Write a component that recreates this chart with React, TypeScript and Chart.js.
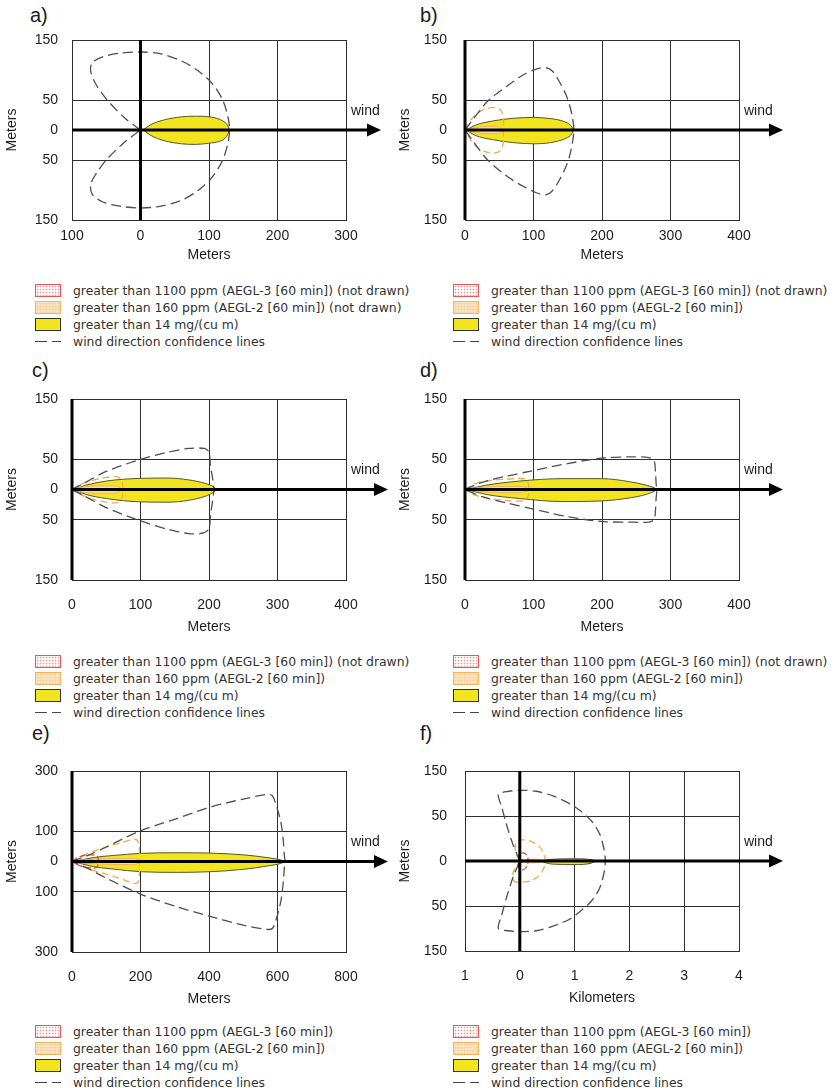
import React, { useEffect, useRef } from "react";
import { Chart, registerables } from "chart.js";

Chart.register(...registerables);

// ---------------- Panel a ----------------
const aXTicks = [-100, 0, 100, 200, 300];
const aXTickLabels = ["100", "0", "100", "200", "300"];
const aYTicks = [-150, -50, 0, 50, 150];
const aYTickLabels = ["150", "50", "0", "50", "150"];
const aYellowX = [4, 15, 35, 60, 80, 100, 115, 124, 128, 129.5];
const aYellowTop = [0, 9, 17, 22, 23, 22, 18, 12, 6, 0];
const aYellowBottom = [0, -9, -18, -23, -24, -22, -19, -13, -6, 0];
const aGrayDash = [
  [0, 0], [-25, 22], [-50, 52], [-66, 78], [-73, 100], [-70, 113], [-55, 122], [-30, 128], [0, 130],
  [30, 127], [60, 115], [85, 98], [105, 77], [120, 50], [128, 20], [130, 0], [128, -20], [120, -50],
  [105, -78], [85, -100], [60, -117], [30, -127], [0, -130], [-30, -127], [-55, -120], [-70, -108],
  [-73, -92], [-66, -75], [-50, -50], [-25, -22], [0, 0],
];

// ---------------- Panel b ----------------
const bXTicks = [0, 100, 200, 300, 400];
const bXTickLabels = ["0", "100", "200", "300", "400"];
const bYTicks = [-150, -50, 0, 50, 150];
const bYTickLabels = ["150", "50", "0", "50", "150"];
const bYellowX = [2, 15, 40, 70, 100, 125, 145, 154, 159];
const bYellowTop = [0, 8, 15, 19.5, 21, 19, 14, 8, 0];
const bYellowBottom = [0, -9, -16, -21, -23, -21, -15, -9, 0];
const bPeachX = [0, 15, 35, 50, 56];
const bPeachTop = [0, 4, 6, 5, 0];
const bPeachBottom = [0, -4, -6, -5, 0];
const bGrayDash = [
  [0, 0], [12, 18], [33, 48], [60, 72], [85, 92], [105, 102], [118, 104], [128, 98], [137, 82],
  [147, 60], [153, 40], [157, 20], [159, 0], [157, -20], [153, -42], [147, -62], [137, -85],
  [127, -102], [118, -108], [105, -105], [85, -94], [60, -76], [33, -50], [12, -19], [0, 0],
];
const bOrangeDash = [
  [0, 0], [8, 16], [18, 28], [32, 36], [45, 37], [53, 32], [56, 20], [56, 0], [56, -20], [53, -33],
  [45, -38], [32, -37], [18, -29], [8, -16], [0, 0],
];

// ---------------- Panel c ----------------
const cXTicks = [0, 100, 200, 300, 400];
const cXTickLabels = ["0", "100", "200", "300", "400"];
const cYTicks = [-150, -50, 0, 50, 150];
const cYTickLabels = ["150", "50", "0", "50", "150"];
const cYellowX = [2, 20, 50, 100, 140, 170, 195, 206, 211];
const cYellowTop = [0, 7, 14, 18.5, 19, 16, 10, 5, 0];
const cYellowBottom = [0, -8, -15, -20.5, -21, -18, -11, -5, 0];
const cPeachX = [0, 15, 35, 55, 68, 72];
const cPeachTop = [0, 4, 6, 6, 4, 0];
const cPeachBottom = [0, -4, -6, -6, -4, 0];
const cGrayDash = [
  [0, 0], [20, 12], [50, 30], [100, 50], [140, 62], [170, 68], [193, 68], [200, 62], [202, 40],
  [205, 20], [207, 0], [205, -20], [202, -45], [200, -65], [192, -72], [170, -73], [140, -66],
  [100, -52], [50, -30], [20, -12], [0, 0],
];
const cOrangeDash = [
  [0, 0], [12, 8], [30, 15], [50, 20], [66, 21], [72, 16], [74, 8], [74, 0], [74, -8], [72, -17],
  [66, -22], [50, -21], [30, -16], [12, -8], [0, 0],
];

// ---------------- Panel d ----------------
const dXTicks = [0, 100, 200, 300, 400];
const dXTickLabels = ["0", "100", "200", "300", "400"];
const dYTicks = [-150, -50, 0, 50, 150];
const dYTickLabels = ["150", "50", "0", "50", "150"];
const dYellowX = [2, 30, 80, 143, 199, 240, 265, 276, 280];
const dYellowTop = [0, 7, 14, 18, 18, 13, 7, 3, 0];
const dYellowBottom = [0, -8, -15, -20, -19, -14, -8, -3, 0];
const dPeachX = [0, 20, 50, 80, 90, 92];
const dPeachTop = [0, 3, 5, 5, 3, 0];
const dPeachBottom = [0, -3, -5, -5, -3, 0];
const dGrayDash = [
  [0, 0], [25, 12], [60, 22], [98, 31], [150, 43], [199, 52], [240, 54], [268, 53], [276, 48],
  [278, 30], [279, 10], [280, 0], [279, -15], [278, -35], [276, -50], [268, -54], [240, -54],
  [199, -53], [150, -45], [98, -32], [60, -22], [25, -12], [0, 0],
];
const dOrangeDash = [
  [0, 0], [12, 8], [30, 14], [60, 17], [85, 18], [91, 14], [93, 6], [93, 0], [93, -6], [91, -14],
  [85, -19], [60, -18], [30, -14], [12, -8], [0, 0],
];

// ---------------- Panel e ----------------
const eXTicks = [0, 200, 400, 600, 800];
const eXTickLabels = ["0", "200", "400", "600", "800"];
const eYTicks = [-300, -100, 0, 100, 300];
const eYTickLabels = ["300", "100", "0", "100", "300"];
const eYellowX = [3, 30, 62, 120, 203, 306, 400, 500, 570, 610, 622];
const eYellowTop = [0, 6, 13, 20, 27, 29, 28, 22, 13, 5, 0];
const eYellowBottom = [0, -8, -17, -25, -34, -36, -34, -26, -15, -6, 0];
const ePeachX = [0, 30, 100, 170, 195, 198];
const ePeachTop = [0, 5, 9, 10, 6, 0];
const ePeachBottom = [0, -5, -9, -10, -6, 0];
const eRedX = [0, 20, 50, 70, 76];
const eRedTop = [0, 3, 4, 3, 0];
const eRedBottom = [0, -3, -4, -3, 0];
const eGrayDash = [
  [0, 0], [50, 22], [100, 48], [198, 101], [300, 140], [403, 180], [500, 207], [568, 222],
  [585, 218], [598, 180], [610, 130], [617, 67], [620, 20], [622, 0], [620, -20], [617, -67],
  [610, -130], [598, -185], [585, -222], [568, -225], [500, -211], [403, -182], [300, -148],
  [198, -107], [100, -55], [50, -25], [0, 0],
];
const eOrangeDash = [
  [0, 0], [30, 18], [60, 33], [100, 48], [145, 63], [186, 73], [195, 62], [197, 30], [198, 0],
  [197, -30], [195, -62], [186, -73], [140, -56], [100, -42], [57, -28], [25, -14], [0, 0],
];
const eRedDash = [
  [0, 0], [15, 12], [35, 20], [60, 22], [74, 18], [77, 5], [77, 0], [76, -10], [72, -20],
  [60, -22], [35, -18], [15, -10], [0, 0],
];

// ---------------- Panel f (x in km, y in the panel's equal grid steps) ----------------
const fXTicks = [-1, 0, 1, 2, 3, 4];
const fXTickLabels = ["1", "0", "1", "2", "3", "4"];
const fYTicks = [-2, -1, 0, 1, 2];
const fYTickLabels = ["150", "50", "0", "50", "150"];
const fYellowX = [0.35, 0.6, 1.0, 1.3, 1.38];
const fYellowTop = [0, 0.04, 0.05, 0.03, 0];
const fYellowBottom = [0, -0.07, -0.08, -0.05, 0];
const fPeachX = [0, 0.1, 0.3, 0.4, 0.45];
const fPeachTop = [0, 0.03, 0.04, 0.02, 0];
const fPeachBottom = [0, -0.03, -0.04, -0.02, 0];
const fRedX = [0, 0.04, 0.08];
const fRedTop = [0, 0.03, 0];
const fRedBottom = [0, -0.03, 0];
const fGrayDash = [
  [0, 0], [-0.12, 0.35], [-0.24, 0.8], [-0.33, 1.2], [-0.39, 1.48], [-0.2, 1.55], [0, 1.57],
  [0.3, 1.55], [0.62, 1.44], [0.9, 1.28], [1.1, 1.12], [1.3, 0.9], [1.45, 0.62], [1.53, 0.3],
  [1.56, 0], [1.53, -0.3], [1.45, -0.62], [1.3, -0.9], [1.1, -1.12], [0.9, -1.3], [0.62, -1.44],
  [0.3, -1.55], [0, -1.57], [-0.2, -1.55], [-0.39, -1.5], [-0.33, -1.2], [-0.24, -0.8],
  [-0.12, -0.35], [0, 0],
];
const fOrangeDash = [
  [0, 0], [-0.08, 0.22], [-0.06, 0.42], [0.05, 0.47], [0.2, 0.44], [0.35, 0.33], [0.44, 0.15],
  [0.46, 0], [0.44, -0.15], [0.35, -0.33], [0.2, -0.44], [0.05, -0.47], [-0.1, -0.45],
  [-0.12, -0.25], [0, 0],
];
const fRedDash = [
  [0, 0], [-0.02, 0.12], [0.05, 0.18], [0.13, 0.13], [0.15, 0.02], [0.13, -0.12], [0.05, -0.2],
  [-0.02, -0.14], [0, 0],
];

// ---------------- Legend texts ----------------
const legendNotDrawnBoth = [
  "greater than 1100 ppm (AEGL-3 [60 min]) (not drawn)",
  "greater than 160 ppm (AEGL-2 [60 min]) (not drawn)",
  "greater than 14 mg/(cu m)",
  "wind direction confidence lines",
];
const legendNotDrawnRed = [
  "greater than 1100 ppm (AEGL-3 [60 min]) (not drawn)",
  "greater than 160 ppm (AEGL-2 [60 min])",
  "greater than 14 mg/(cu m)",
  "wind direction confidence lines",
];
const legendAllDrawn = [
  "greater than 1100 ppm (AEGL-3 [60 min])",
  "greater than 160 ppm (AEGL-2 [60 min])",
  "greater than 14 mg/(cu m)",
  "wind direction confidence lines",
];

// ---------------- Styling ----------------
const TEXT = "#1c1c1c";
const GRID = "#2e2e2e";
const YELLOW = "#f2e51e";
const YELLOW_EDGE = "#55552a";
const PEACH = "#f9dcb0";
const PEACH_EDGE = "#f2b060";
const RED_FILL = "rgba(240,120,120,0.75)";
const RED_EDGE = "#e04040";
const GRAY_DASH = "#4f4f4f";
const ORANGE_DASH = "#f5a849";
const RED_DASH = "#e5413a";
const AXIS_FONT = '"Liberation Sans", Arial, Helvetica, sans-serif';
const PAD_TOP = 30;

type Shape = { x: number[]; top: number[]; bottom: number[] };
interface PanelDef {
  label: string;
  labelLeft: number;
  labelTop: number;
  left: number;
  plotTop: number;
  plotHeight: number;
  width: number;
  padRight: number;
  yAxisWidth: number;
  yTickPad: number;
  xAxisHeight: number;
  xTickPad: number;
  xMin: number;
  xMax: number;
  yMin: number;
  yMax: number;
  xTicks: number[];
  xTickLabels: string[];
  yTicks: number[];
  yTickLabels: string[];
  xTitle: string;
  yellow: Shape;
  peach?: Shape;
  redFill?: Shape;
  grayDash: number[][];
  orangeDash?: number[][];
  redDash?: number[][];
  arrowLen: number;
  legend: string[];
  legendLeft: number;
  legendTop: number;
}

const panels: PanelDef[] = [
  {
    label: "a)", labelLeft: 30, labelTop: 3,
    left: 0, plotTop: 40, plotHeight: 180, width: 392, padRight: 46,
    yAxisWidth: 72, yTickPad: 14, xAxisHeight: 44, xTickPad: 8,
    xMin: -100, xMax: 300, yMin: -150, yMax: 150,
    xTicks: aXTicks, xTickLabels: aXTickLabels, yTicks: aYTicks, yTickLabels: aYTickLabels,
    xTitle: "Meters",
    yellow: { x: aYellowX, top: aYellowTop, bottom: aYellowBottom },
    grayDash: aGrayDash, arrowLen: 35,
    legend: legendNotDrawnBoth, legendLeft: 35, legendTop: 281.5,
  },
  {
    label: "b)", labelLeft: 420, labelTop: 3,
    left: 393, plotTop: 40, plotHeight: 180, width: 444, padRight: 98,
    yAxisWidth: 72, yTickPad: 18, xAxisHeight: 44, xTickPad: 8,
    xMin: 0, xMax: 400, yMin: -150, yMax: 150,
    xTicks: bXTicks, xTickLabels: bXTickLabels, yTicks: bYTicks, yTickLabels: bYTickLabels,
    xTitle: "Meters",
    yellow: { x: bYellowX, top: bYellowTop, bottom: bYellowBottom },
    peach: { x: bPeachX, top: bPeachTop, bottom: bPeachBottom },
    grayDash: bGrayDash, orangeDash: bOrangeDash, arrowLen: 44,
    legend: legendNotDrawnRed, legendLeft: 453, legendTop: 281.5,
  },
  {
    label: "c)", labelLeft: 32, labelTop: 358,
    left: 0, plotTop: 399, plotHeight: 181, width: 392, padRight: 46,
    yAxisWidth: 72, yTickPad: 14, xAxisHeight: 56, xTickPad: 17,
    xMin: 0, xMax: 400, yMin: -150, yMax: 150,
    xTicks: cXTicks, xTickLabels: cXTickLabels, yTicks: cYTicks, yTickLabels: cYTickLabels,
    xTitle: "Meters",
    yellow: { x: cYellowX, top: cYellowTop, bottom: cYellowBottom },
    peach: { x: cPeachX, top: cPeachTop, bottom: cPeachBottom },
    grayDash: cGrayDash, orangeDash: cOrangeDash, arrowLen: 42,
    legend: legendNotDrawnRed, legendLeft: 35, legendTop: 652.5,
  },
  {
    label: "d)", labelLeft: 420, labelTop: 358,
    left: 393, plotTop: 399, plotHeight: 181, width: 444, padRight: 98,
    yAxisWidth: 72, yTickPad: 18, xAxisHeight: 56, xTickPad: 17,
    xMin: 0, xMax: 400, yMin: -150, yMax: 150,
    xTicks: dXTicks, xTickLabels: dXTickLabels, yTicks: dYTicks, yTickLabels: dYTickLabels,
    xTitle: "Meters",
    yellow: { x: dYellowX, top: dYellowTop, bottom: dYellowBottom },
    peach: { x: dPeachX, top: dPeachTop, bottom: dPeachBottom },
    grayDash: dGrayDash, orangeDash: dOrangeDash, arrowLen: 44,
    legend: legendNotDrawnRed, legendLeft: 453, legendTop: 652.5,
  },
  {
    label: "e)", labelLeft: 32, labelTop: 721,
    left: 0, plotTop: 771, plotHeight: 181, width: 392, padRight: 46,
    yAxisWidth: 72, yTickPad: 14, xAxisHeight: 56, xTickPad: 17,
    xMin: 0, xMax: 800, yMin: -300, yMax: 300,
    xTicks: eXTicks, xTickLabels: eXTickLabels, yTicks: eYTicks, yTickLabels: eYTickLabels,
    xTitle: "Meters",
    yellow: { x: eYellowX, top: eYellowTop, bottom: eYellowBottom },
    peach: { x: ePeachX, top: ePeachTop, bottom: ePeachBottom },
    redFill: { x: eRedX, top: eRedTop, bottom: eRedBottom },
    grayDash: eGrayDash, orangeDash: eOrangeDash, redDash: eRedDash, arrowLen: 42,
    legend: legendAllDrawn, legendLeft: 35, legendTop: 1022.5,
  },
  {
    label: "f)", labelLeft: 420, labelTop: 721,
    left: 393, plotTop: 771, plotHeight: 180, width: 444, padRight: 98,
    yAxisWidth: 72, yTickPad: 18, xAxisHeight: 56, xTickPad: 17,
    xMin: -1, xMax: 4, yMin: -2, yMax: 2,
    xTicks: fXTicks, xTickLabels: fXTickLabels, yTicks: fYTicks, yTickLabels: fYTickLabels,
    xTitle: "Kilometers",
    yellow: { x: fYellowX, top: fYellowTop, bottom: fYellowBottom },
    peach: { x: fPeachX, top: fPeachTop, bottom: fPeachBottom },
    redFill: { x: fRedX, top: fRedTop, bottom: fRedBottom },
    grayDash: fGrayDash, orangeDash: fOrangeDash, redDash: fRedDash, arrowLen: 44,
    legend: legendAllDrawn, legendLeft: 453, legendTop: 1022.5,
  },
];

function dashDataset(pts: number[][], color: string, dash: number[], width: number) {
  return {
    data: pts.map(([x, y]) => ({ x, y })),
    borderColor: color,
    borderWidth: width,
    borderDash: dash,
    pointRadius: 0,
    fill: false,
    tension: 0.3,
  };
}

function shapeDatasets(s: Shape, fillColor: string, edge: string) {
  return [
    {
      data: s.x.map((x, i) => ({ x, y: s.top[i] })),
      borderColor: edge,
      borderWidth: 1,
      backgroundColor: fillColor,
      fill: "+1",
      pointRadius: 0,
      cubicInterpolationMode: "monotone",
    },
    {
      data: s.x.map((x, i) => ({ x, y: s.bottom[i] })),
      borderColor: edge,
      borderWidth: 1,
      fill: false,
      pointRadius: 0,
      cubicInterpolationMode: "monotone",
    },
  ];
}

const windArrowPlugin = {
  id: "windArrow",
  afterDraw(chart: any, _args: any, opts: any) {
    const { ctx, chartArea, scales } = chart;
    const x0 = scales.x.getPixelForValue(0);
    const y0 = scales.y.getPixelForValue(0);
    const tip = chartArea.right + opts.arrowLen;
    ctx.save();
    ctx.strokeStyle = "#000";
    ctx.lineWidth = 3;
    ctx.beginPath();
    ctx.moveTo(x0, chartArea.top);
    ctx.lineTo(x0, chartArea.bottom);
    ctx.stroke();
    ctx.beginPath();
    ctx.moveTo(chartArea.left, y0);
    ctx.lineTo(tip - 10, y0);
    ctx.stroke();
    ctx.fillStyle = "#000";
    ctx.beginPath();
    ctx.moveTo(tip, y0);
    ctx.lineTo(tip - 14, y0 - 6.5);
    ctx.lineTo(tip - 14, y0 + 6.5);
    ctx.closePath();
    ctx.fill();
    ctx.fillStyle = TEXT;
    ctx.font = `14px ${AXIS_FONT}`;
    ctx.textAlign = "left";
    ctx.textBaseline = "middle";
    ctx.fillText("wind", chartArea.right + 5, y0 - 19);
    ctx.restore();
  },
};

function PanelChart({ p }: { p: PanelDef }) {
  const ref = useRef<HTMLCanvasElement>(null);
  const height = PAD_TOP + p.plotHeight + p.xAxisHeight;
  const top = p.plotTop - PAD_TOP;
  useEffect(() => {
    const datasets: any[] = [];
    datasets.push(dashDataset(p.grayDash, GRAY_DASH, [10, 5], 1.3));
    if (p.redDash) datasets.push(dashDataset(p.redDash, RED_DASH, [6, 3], 1.3));
    if (p.orangeDash) datasets.push(dashDataset(p.orangeDash, ORANGE_DASH, [7, 4], 1.3));
    if (p.redFill) datasets.push(...shapeDatasets(p.redFill, RED_FILL, RED_EDGE));
    if (p.peach) datasets.push(...shapeDatasets(p.peach, PEACH, PEACH_EDGE));
    datasets.push(...shapeDatasets(p.yellow, YELLOW, YELLOW_EDGE));

    const chart = new Chart(ref.current as HTMLCanvasElement, {
      type: "line",
      data: { datasets },
      plugins: [windArrowPlugin],
      options: {
        responsive: false,
        maintainAspectRatio: false,
        animation: false,
        devicePixelRatio: 1,
        layout: { padding: { top: PAD_TOP, right: p.padRight, left: 0, bottom: 0 } },
        plugins: {
          legend: { display: false },
          tooltip: { enabled: false },
          filler: { drawTime: "beforeDatasetsDraw" },
          windArrow: { arrowLen: p.arrowLen },
        } as any,
        scales: {
          x: {
            type: "linear",
            min: p.xMin,
            max: p.xMax,
            z: 1,
            afterBuildTicks: (s: any) => {
              s.ticks = p.xTicks.map((v) => ({ value: v }));
            },
            afterFit: (s: any) => {
              s.height = p.xAxisHeight;
            },
            ticks: {
              autoSkip: false,
              maxRotation: 0,
              padding: p.xTickPad,
              color: TEXT,
              font: { family: AXIS_FONT, size: 14 },
              callback: (_v: any, i: number) => p.xTickLabels[i],
            },
            grid: { color: GRID, lineWidth: 1, drawTicks: false },
            border: { display: true, color: GRID, width: 1 },
            title: {
              display: true,
              text: p.xTitle,
              color: TEXT,
              font: { family: AXIS_FONT, size: 14 },
              padding: { top: 0, bottom: 0 },
            },
          },
          y: {
            type: "linear",
            min: p.yMin,
            max: p.yMax,
            z: 1,
            afterBuildTicks: (s: any) => {
              s.ticks = p.yTicks.map((v) => ({ value: v }));
            },
            afterFit: (s: any) => {
              s.width = p.yAxisWidth;
            },
            ticks: {
              autoSkip: false,
              padding: p.yTickPad,
              color: TEXT,
              font: { family: AXIS_FONT, size: 14 },
              callback: (_v: any, i: number) => p.yTickLabels[i],
            },
            grid: { color: GRID, lineWidth: 1, drawTicks: false },
            border: { display: true, color: GRID, width: 1 },
            title: {
              display: true,
              text: "Meters",
              color: TEXT,
              font: { family: AXIS_FONT, size: 14 },
              padding: { top: 4, bottom: 0 },
            },
          },
        },
      } as any,
    });
    return () => chart.destroy();
  }, [p]);
  return (
    <canvas
      ref={ref}
      width={p.width}
      height={height}
      style={{ position: "absolute", left: p.left, top, width: p.width, height }}
    />
  );
}

const swatchBase: React.CSSProperties = {
  position: "absolute",
  left: 0,
  width: 26,
  height: 13,
  boxSizing: "border-box",
};

function Swatch({ kind }: { kind: number }) {
  if (kind === 0)
    return (
      <div
        style={{
          ...swatchBase,
          top: 2,
          border: "1.5px solid #e8555a",
          backgroundColor: "#fff",
          backgroundImage: "radial-gradient(circle, #f29a9a 0.8px, transparent 1.1px)",
          backgroundSize: "3px 3px",
        }}
      />
    );
  if (kind === 1)
    return (
      <div
        style={{
          ...swatchBase,
          top: 2,
          border: "1.5px solid #f6b25c",
          backgroundColor: "#fbe3c2",
          backgroundImage: "radial-gradient(circle, #f6cc98 0.8px, transparent 1.1px)",
          backgroundSize: "3px 3px",
        }}
      />
    );
  if (kind === 2)
    return <div style={{ ...swatchBase, top: 2, border: "1.5px solid #333318", backgroundColor: YELLOW }} />;
  return (
    <>
      <div style={{ position: "absolute", left: 0, top: 8, width: 12, height: 1.5, background: "#444" }} />
      <div style={{ position: "absolute", left: 17, top: 8, width: 9, height: 1.5, background: "#444" }} />
    </>
  );
}

function Legend({ p }: { p: PanelDef }) {
  return (
    <div style={{ position: "absolute", left: p.legendLeft, top: p.legendTop }}>
      {p.legend.map((t, i) => (
        <div key={i} style={{ position: "absolute", left: 0, top: i * 17, width: 400, height: 17 }}>
          <Swatch kind={i} />
          <div
            style={{
              position: "absolute",
              left: 38,
              top: 0,
              lineHeight: "17px",
              fontFamily: '"DejaVu Sans", Verdana, sans-serif',
              fontSize: "12.4px",
              color: "#333",
              whiteSpace: "nowrap",
            }}
          >
            {t}
          </div>
        </div>
      ))}
    </div>
  );
}

export default function App() {
  return (
    <div
      style={{
        position: "absolute",
        left: 0,
        top: 0,
        width: 837,
        height: 1088,
        background: "#fff",
        overflow: "hidden",
      }}
    >
      {panels.map((p) => (
        <React.Fragment key={p.label}>
          <div
            style={{
              position: "absolute",
              left: p.labelLeft,
              top: p.labelTop,
              fontFamily: AXIS_FONT,
              fontSize: 20,
              lineHeight: "24px",
              color: TEXT,
            }}
          >
            {p.label}
          </div>
          <PanelChart p={p} />
          <Legend p={p} />
        </React.Fragment>
      ))}
    </div>
  );
}
